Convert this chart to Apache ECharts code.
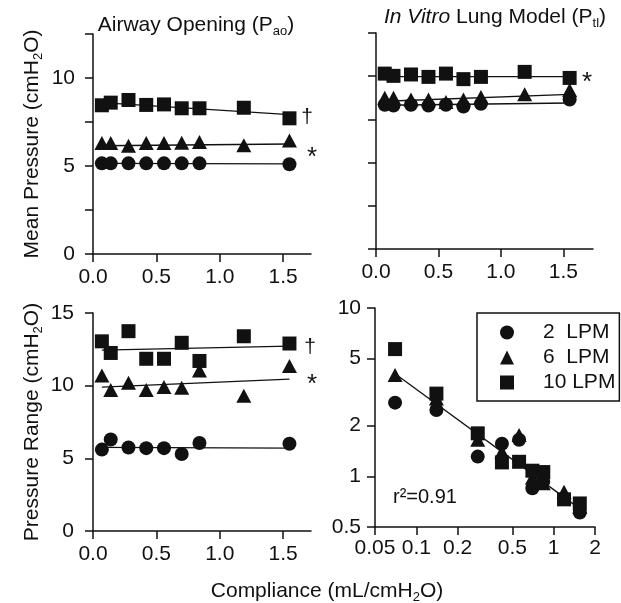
<!DOCTYPE html>
<html>
<head>
<meta charset="utf-8">
<script src="https://cdn.jsdelivr.net/npm/echarts@6/dist/echarts.min.js"></script>
<style>
  html, body { margin: 0; padding: 0; background: #fff; }
  #chart { width: 621px; height: 603px; }
</style>
</head>
<body>
<div id="chart"></div>
<script>
// compliance settings (mL/cmH2O); the 2 LPM runs have no 1.19 point
var compliance = [0.07, 0.14, 0.28, 0.42, 0.56, 0.70, 0.84, 1.19, 1.55];
var complianceLow = [0.07, 0.14, 0.28, 0.42, 0.56, 0.70, 0.84, 1.55];
var fitX = [0.07, 1.55];

// mean pressure at airway opening
var aoLow = [5.15, 5.15, 5.15, 5.15, 5.15, 5.15, 5.15, 5.1];
var aoMid = [6.3, 6.3, 6.15, 6.3, 6.3, 6.32, 6.36, 6.18, 6.45];
var aoHigh = [8.45, 8.6, 8.75, 8.47, 8.5, 8.28, 8.28, 8.31, 7.71];
var aoLowFit = [5.15, 5.12];
var aoMidFit = [6.15, 6.25];
var aoHighFit = [8.6, 7.92];

// mean pressure in the lung model
var tlLow = [8.35, 8.3, 8.35, 8.3, 8.35, 8.25, 8.4, 8.65];
var tlMid = [8.75, 8.75, 8.65, 8.65, 8.5, 8.65, 8.8, 8.95, 9.2];
var tlHigh = [10.15, 10.02, 10.1, 9.96, 10.15, 9.83, 9.96, 10.25, 9.9];
var tlLowFit = [8.32, 8.45];
var tlMidFit = [8.55, 8.95];
var tlHighFit = [9.98, 9.98];

// pressure range
var rgLow = [5.6, 6.3, 5.75, 5.7, 5.7, 5.3, 6.05, 6.0];
var rgMid = [10.7, 9.7, 10.2, 9.7, 9.9, 9.85, 11.05, 9.3, 11.35];
var rgHigh = [13.05, 12.25, 13.75, 11.85, 11.85, 12.95, 11.7, 13.4, 12.9];
var rgLowFit = [5.75, 5.7];
var rgMidFit = [9.9, 10.45];
var rgHighFit = [12.45, 12.72];

// ratio panel (log-log)
var lgLow = [2.74, 2.48, 1.31, 1.56, 1.65, 0.85, 0.93, 0.61];
var lgMid = [4.0, 2.9, 1.65, 1.4, 1.76, 0.98, 0.91, 0.81, 0.66];
var lgHigh = [5.7, 3.1, 1.8, 1.21, 1.22, 1.08, 1.06, 0.73, 0.69];
var lgFitX = [0.075, 1.6];
var lgFitY = [3.9, 0.63];

var linTicks = [0, 0.5, 1, 1.5];
var logXTicks = [0.05, 0.1, 0.2, 0.5, 1, 2];
var logYTicks = [0.5, 1, 2, 5, 10];

var LOW = '2  LPM', MID = '6  LPM', HIGH = '10 LPM';
var ink = '#111';
var font = 'Liberation Sans, Arial, Helvetica, sans-serif';

function pairs(xs, ys) {
  return xs.map(function (x, i) { return [x, ys[i]]; });
}

var subRich = { s: { fontSize: 13, lineHeight: 13, verticalAlign: 'bottom' } };

function lineAxis(grid, min, max) {
  return {
    type: 'value', gridIndex: grid, min: min, max: max,
    axisLine: { onZero: false, lineStyle: { color: ink, width: 1.5 } },
    axisTick: { length: 8, lineStyle: { color: ink, width: 1.5 } },
    axisLabel: { color: ink, fontSize: 21 },
    splitLine: { show: false }
  };
}

function xLin(grid, max) {
  var a = lineAxis(grid, 0, max);
  a.axisTick.customValues = linTicks;
  a.axisLabel.customValues = linTicks;
  a.axisLabel.margin = 13;
  a.axisLabel.formatter = function (v) { return v.toFixed(1); };
  return a;
}

function scatter(name, symbol, size, grid, xs, ys) {
  return {
    name: name, type: 'scatter', xAxisIndex: grid, yAxisIndex: grid,
    symbol: symbol, symbolSize: size, itemStyle: { color: ink, opacity: 1 },
    data: pairs(xs, ys), z: 3
  };
}

function fit(grid, xs, ys) {
  return {
    type: 'line', xAxisIndex: grid, yAxisIndex: grid, data: pairs(xs, ys),
    symbol: 'none', silent: true, z: 2,
    lineStyle: { color: ink, width: 1.3 }
  };
}

function panel(grid, xs, low, mid, high) {
  return [
    scatter(LOW, 'circle', 14, grid, xs === compliance ? complianceLow : xs, low),
    scatter(MID, 'triangle', [15, 14], grid, xs, mid),
    scatter(HIGH, 'rect', 14, grid, xs, high)
  ];
}

var y1 = lineAxis(0, 0, 12.5);
y1.interval = 2.5;
y1.axisLabel.customValues = [0, 5, 10];
y1.axisLabel.margin = 18;
y1.name = 'Mean Pressure (cmH{s|2}O)';

var y2 = lineAxis(1, 0, 12.5);
y2.interval = 2.5;
y2.axisLabel.show = false;

var y3 = lineAxis(2, 0, 15);
y3.interval = 5;
y3.axisLabel.margin = 19;
y3.name = 'Pressure Range (cmH{s|2}O)';

[y1, y3].forEach(function (a) {
  a.nameLocation = 'middle';
  a.nameRotate = 90;
  a.nameGap = 48;
  a.nameTextStyle = { color: ink, fontSize: 21, lineHeight: 26, rich: subRich };
});

var x4 = {
  type: 'log', logBase: 10, gridIndex: 3, min: 0.05, max: 2,
  axisLine: { onZero: false, lineStyle: { color: ink, width: 1.5 } },
  axisTick: { length: 8, lineStyle: { color: ink, width: 1.5 }, customValues: logXTicks },
  axisLabel: { color: ink, fontSize: 21, margin: 11, customValues: logXTicks,
    formatter: function (v) { return String(+v.toPrecision(2)); } },
  minorTick: { show: false },
  splitLine: { show: false }
};
var y4 = {
  type: 'log', logBase: 10, gridIndex: 3, min: 0.5, max: 10,
  axisLine: { onZero: false, lineStyle: { color: ink, width: 1.5 } },
  axisTick: { length: 8, lineStyle: { color: ink, width: 1.5 }, customValues: logYTicks },
  axisLabel: { color: ink, fontSize: 21, margin: 14, customValues: logYTicks,
    formatter: function (v) { return String(+v.toPrecision(2)); } },
  minorTick: { show: false },
  splitLine: { show: false }
};

var chart = echarts.init(document.getElementById('chart'));

var option = {
  animation: false,
  backgroundColor: '#fff',
  textStyle: { fontFamily: font, color: ink },
  title: [
    { text: 'Airway Opening (P{s|ao})', left: 196, top: 12, textAlign: 'center', padding: 0,
      textStyle: { fontSize: 21, fontWeight: 'normal', color: ink, lineHeight: 26, rich: subRich } },
    { text: '{i|In Vitro} Lung Model (P{s|tl})', left: 495, top: 4, textAlign: 'center', padding: 0,
      textStyle: { fontSize: 21, fontWeight: 'normal', color: ink, lineHeight: 26,
        rich: { s: subRich.s, i: { fontSize: 21, fontStyle: 'italic', lineHeight: 26 } } } },
    { text: 'Compliance (mL/cmH{s|2}O)', left: 327, top: 578, textAlign: 'center', padding: 0,
      textStyle: { fontSize: 21, fontWeight: 'normal', color: ink, lineHeight: 26, rich: subRich } }
  ],
  legend: {
    data: [LOW, MID, HIGH], orient: 'vertical', left: 477, top: 313,
    padding: [9, 4, 8, 23], itemWidth: 14, itemHeight: 14, itemGap: 4,
    borderColor: ink, borderWidth: 1.5, selectedMode: false,
    textStyle: { fontSize: 21, lineHeight: 21, color: ink, padding: [0, 0, 0, 24] }
  },
  grid: [
    { left: 93, top: 34, width: 218, height: 220, outerBoundsMode: 'none' },
    { left: 376, top: 33, width: 217, height: 216, outerBoundsMode: 'none' },
    { left: 93, top: 313, width: 218, height: 218, outerBoundsMode: 'none' },
    { left: 375, top: 308, width: 220, height: 219, outerBoundsMode: 'none' }
  ],
  xAxis: [xLin(0, 1.72), xLin(1, 1.737), xLin(2, 1.72), x4],
  yAxis: [y1, y2, y3, y4],
  graphic: [
    { type: 'text', x: 307, y: 117, style: { text: '\u2020', fontSize: 21, fontFamily: font, fill: ink, align: 'center', verticalAlign: 'middle' } },
    { type: 'text', x: 312, y: 158, style: { text: '*', fontSize: 26, fontFamily: font, fill: ink, align: 'center', verticalAlign: 'middle' } },
    { type: 'text', x: 587, y: 83, style: { text: '*', fontSize: 26, fontFamily: font, fill: ink, align: 'center', verticalAlign: 'middle' } },
    { type: 'text', x: 310, y: 347, style: { text: '\u2020', fontSize: 21, fontFamily: font, fill: ink, align: 'center', verticalAlign: 'middle' } },
    { type: 'text', x: 312, y: 385, style: { text: '*', fontSize: 26, fontFamily: font, fill: ink, align: 'center', verticalAlign: 'middle' } },
    { type: 'text', x: 393, y: 497, style: { text: 'r\u00b2=0.91', fontSize: 20, fontFamily: font, fill: ink, align: 'left', verticalAlign: 'middle' } }
  ],
  series: [].concat(
    panel(0, compliance, aoLow, aoMid, aoHigh),
    [fit(0, fitX, aoLowFit), fit(0, fitX, aoMidFit), fit(0, fitX, aoHighFit)],
    panel(1, compliance, tlLow, tlMid, tlHigh),
    [fit(1, fitX, tlLowFit), fit(1, fitX, tlMidFit), fit(1, fitX, tlHighFit)],
    panel(2, compliance, rgLow, rgMid, rgHigh),
    [fit(2, fitX, rgLowFit), fit(2, fitX, rgMidFit), fit(2, fitX, rgHighFit)],
    panel(3, compliance, lgLow, lgMid, lgHigh),
    [fit(3, lgFitX, lgFitY)]
  )
};

chart.setOption(option);
</script>
</body>
</html>
